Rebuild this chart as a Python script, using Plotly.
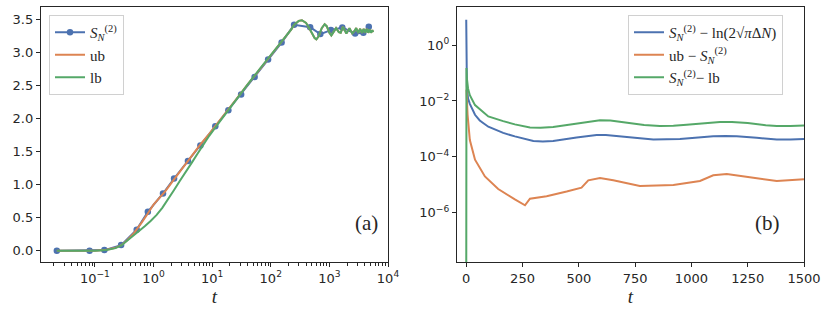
import plotly.graph_objects as go

# ── Colours (seaborn "deep") ───────────────────────────────────────────────
BLUE, ORANGE, GREEN = "#4C72B0", "#DD8452", "#55A868"
INK = "#262626"

# ── Panel (a): entropy vs t (log t) ───────────────────────────────────────
s_t = [0.0224, 0.081, 0.145, 0.28, 0.516, 0.80, 1.45, 2.24, 3.86, 6.3, 11.3,
       18.9, 31.2, 53, 90, 153, 250, 470, 700, 1060, 1660, 2750, 3800, 4700]
s_y = [0.0, 0.0, 0.01, 0.086, 0.32, 0.59, 0.867, 1.094, 1.357, 1.594, 1.886,
       2.128, 2.365, 2.632, 2.894, 3.152, 3.42, 3.385, 3.28, 3.34, 3.38,
       3.29, 3.30, 3.39]

ub_t = [0.0224, 0.05, 0.1, 0.158, 0.224, 0.282, 0.355, 0.447, 0.516, 0.631,
        0.794, 1.0, 1.26, 1.58, 2.24, 3.16, 4.47, 6.31, 8.91, 11.2, 14.1,
        15.8, 25.1, 39.8, 63.1, 100, 158, 224]
ub_y = [0.0, 0.0, 0.002, 0.015, 0.045, 0.085, 0.16, 0.25, 0.32, 0.43,
        0.56, 0.70, 0.80, 0.90, 1.08, 1.26, 1.44, 1.61, 1.77, 1.88, 1.99,
        2.05, 2.28, 2.51, 2.74, 2.96, 3.18, 3.35]

lb_t = [0.0224, 0.05, 0.1, 0.158, 0.224, 0.282, 0.355, 0.447, 0.562, 0.708,
        0.891, 1.12, 1.41, 1.78, 2.24, 2.82, 3.55, 4.47, 5.62, 7.08, 8.91,
        11.2, 14.1, 15.8, 25.1, 39.8, 63.1, 100, 158, 224]
lb_y = [0.0, 0.0, 0.002, 0.012, 0.04, 0.08, 0.15, 0.23, 0.30, 0.37,
        0.45, 0.54, 0.65, 0.78, 0.92, 1.06, 1.19, 1.33, 1.47, 1.61, 1.74,
        1.86, 1.98, 2.04, 2.28, 2.51, 2.74, 2.96, 3.18, 3.35]

# late-time oscillations (shared by both bounds, they overlap on the plot)
osc_t = [250, 300, 340, 400, 480, 560, 600, 660, 740, 830, 900, 1000, 1080,
         1160, 1300, 1450, 1560, 1700, 1850, 1950, 2200, 2450, 2650, 2870,
         3100, 3350, 3600, 3850, 4100, 4350, 4600, 4850, 5100, 5400, 5600]
osc_y = [3.42, 3.48, 3.49, 3.45, 3.33, 3.22, 3.20, 3.25, 3.37, 3.43, 3.40,
         3.30, 3.26, 3.30, 3.37, 3.31, 3.30, 3.39, 3.32, 3.29, 3.37, 3.29,
         3.32, 3.37, 3.30, 3.36, 3.30, 3.36, 3.30, 3.36, 3.30, 3.35, 3.30,
         3.34, 3.31]

# ── Panel (b): differences vs t (linear t, log y) ─────────────────────────
blue_t = [0, 1, 3, 8, 16, 39, 60, 98, 164, 216, 260, 298, 340, 386, 490, 579,
          620, 683, 760, 831, 900, 949, 1030, 1097, 1150, 1201, 1290, 1379,
          1440, 1500]
blue_v = [8.0, 0.15, 0.032, 0.0123, 0.0079, 0.0032, 0.0020, 0.0012, 7.2e-4,
          5.4e-4, 4.3e-4, 3.7e-4, 3.55e-4, 3.7e-4, 4.9e-4, 6.0e-4, 6.0e-4,
          5.5e-4, 4.7e-4, 4.2e-4, 4.2e-4, 4.4e-4, 4.9e-4, 5.5e-4, 5.6e-4,
          5.5e-4, 4.8e-4, 4.2e-4, 4.2e-4, 4.4e-4]

orange_t = [1, 3, 6, 16, 39, 83, 142, 216, 253, 261, 283, 357, 446, 512, 542,
            594, 653, 771, 920, 1038, 1097, 1157, 1275, 1379, 1500]
orange_v = [0.025, 0.0079, 0.0032, 4.0e-4, 7.9e-5, 2.0e-5, 7.1e-6, 3.0e-6,
            2.0e-6, 1.86e-6, 3.2e-6, 3.9e-6, 5.75e-6, 7.9e-6, 1.45e-5,
            1.74e-5, 1.45e-5, 9.1e-6, 9.8e-6, 1.38e-5, 2.2e-5, 2.45e-5,
            1.8e-5, 1.38e-5, 1.58e-5]

green_t = [0, 1, 3, 8, 16, 39, 60, 98, 164, 216, 283, 330, 386, 490, 594, 640,
           712, 790, 860, 920, 979, 1060, 1127, 1180, 1250, 1330, 1379, 1440,
           1500]
green_v = [1e-9, 0.15, 0.063, 0.028, 0.016, 0.0071, 0.005, 0.0028, 0.0019,
           0.00145, 0.00112, 0.0011, 0.00117, 0.00155, 0.00204, 0.0020,
           0.00166, 0.00138, 0.00126, 0.00129, 0.00141, 0.00162, 0.00178,
           0.00178, 0.00162, 0.00135, 0.00126, 0.00126, 0.00132]

S = "<i>S</i><sub><i>N</i></sub><sup>(2)</sup>"
TICK_FONT = dict(family="DejaVu Sans", size=13, color=INK)
SERIF = "Liberation Serif"

# minor tick positions for the log axis (2..9 in every decade)
minor_log = [m * 10.0 ** e for e in range(-2, 4) for m in range(2, 10)]

fig = go.Figure()

# panel (a)
fig.add_trace(go.Scatter(x=s_t, y=s_y, mode="lines+markers", name=S,
                         line=dict(color=BLUE, width=2),
                         marker=dict(size=6.5, color=BLUE),
                         xaxis="x", yaxis="y", legend="legend"))
fig.add_trace(go.Scatter(x=ub_t + osc_t, y=ub_y + osc_y, mode="lines",
                         name="ub", line=dict(color=ORANGE, width=2),
                         xaxis="x", yaxis="y", legend="legend"))
fig.add_trace(go.Scatter(x=lb_t + osc_t, y=lb_y + osc_y, mode="lines",
                         name="lb", line=dict(color=GREEN, width=2),
                         xaxis="x", yaxis="y", legend="legend"))

# panel (b)
fig.add_trace(go.Scatter(x=blue_t, y=blue_v, mode="lines",
                         name=S + " − ln(2√<i>π</i>Δ<i>N</i>)",
                         line=dict(color=BLUE, width=2),
                         xaxis="x2", yaxis="y2", legend="legend2"))
fig.add_trace(go.Scatter(x=orange_t, y=orange_v, mode="lines",
                         name="ub − " + S,
                         line=dict(color=ORANGE, width=2),
                         xaxis="x2", yaxis="y2", legend="legend2"))
fig.add_trace(go.Scatter(x=green_t, y=green_v, mode="lines",
                         name=S + "− lb",
                         line=dict(color=GREEN, width=2),
                         xaxis="x2", yaxis="y2", legend="legend2"))

axis_common = dict(showline=True, mirror=True, linecolor=INK, linewidth=1.25,
                   ticks="outside", ticklen=4, tickwidth=1, tickcolor=INK,
                   showgrid=False, zeroline=False, tickfont=TICK_FONT,
                   automargin=False)

H = 320
dom_y = [(320 - 262) / H, (320 - 7) / H]

fig.update_layout(
    width=831, height=H,
    margin=dict(l=0, r=0, t=0, b=0),
    paper_bgcolor="white", plot_bgcolor="white",
    xaxis=dict(axis_common, type="log", domain=[41 / 831, 388 / 831],
               range=[-1.92, 4.0],
               tickvals=[0.1, 1, 10, 100, 1000, 10000],
               ticktext=["10<sup>−1</sup>", "10<sup>0</sup>", "10<sup>1</sup>",
                         "10<sup>2</sup>", "10<sup>3</sup>", "10<sup>4</sup>"],
               minor=dict(tickmode="array", tickvals=minor_log,
                          ticks="outside", ticklen=2.5, tickwidth=0.8,
                          tickcolor=INK, showgrid=False),
               title=dict(text="<i>t</i>", font=dict(family=SERIF, size=19,
                                                   color=INK), standoff=4)),
    yaxis=dict(axis_common, domain=dom_y, range=[-0.17, 3.69], dtick=0.5,
               tickformat=".1f"),
    xaxis2=dict(axis_common, domain=[457 / 831, 804 / 831], range=[-41, 1500],
                dtick=250, anchor="y2",
                title=dict(text="<i>t</i>", font=dict(family=SERIF, size=19,
                                                    color=INK), standoff=4)),
    yaxis2=dict(axis_common, type="log", domain=dom_y, range=[-7.76, 1.36],
                anchor="x2",
                tickvals=[1, 1e-2, 1e-4, 1e-6],
                ticktext=["10<sup>0</sup>", "10<sup>−2</sup>",
                          "10<sup>−4</sup>", "10<sup>−6</sup>"]),
    legend=dict(x=49 / 831, y=(320 - 15) / H, xanchor="left", yanchor="top",
                bgcolor="white", bordercolor="#d0d0d0", borderwidth=1,
                font=dict(family=SERIF, size=15, color=INK)),
    legend2=dict(x=628 / 831, y=(320 - 15) / H, xanchor="left", yanchor="top",
                 bgcolor="white", bordercolor="#d0d0d0", borderwidth=1,
                 font=dict(family=SERIF, size=15, color=INK)),
    annotations=[
        dict(text="(a)", x=366 / 831, y=(320 - 237) / H, xref="paper",
             yref="paper", showarrow=False,
             font=dict(family=SERIF, size=21, color=INK)),
        dict(text="(b)", x=782 / 831, y=(320 - 237) / H, xref="paper",
             yref="paper", showarrow=False,
             font=dict(family=SERIF, size=21, color=INK)),
    ],
)

# the page's default 8px body margin would shift the figure; drop it
fig.write_html("out.html", config={"displayModeBar": False},
               post_script="document.body.style.margin='0';")
